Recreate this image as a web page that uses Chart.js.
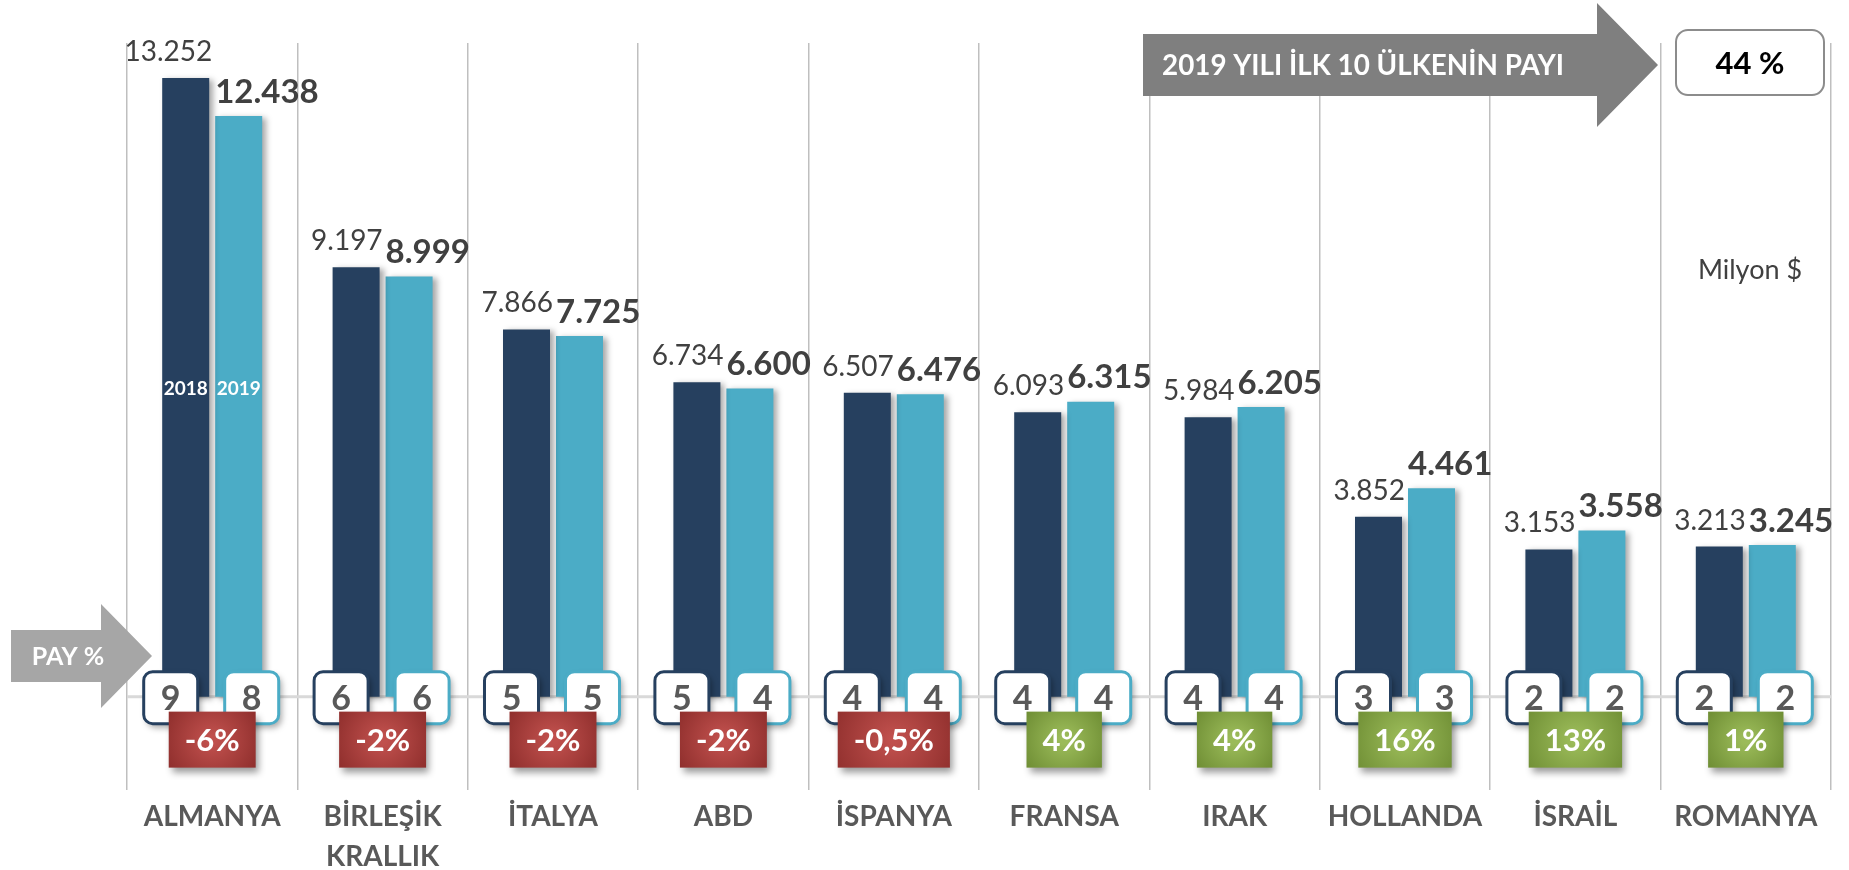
<!DOCTYPE html>
<html lang="tr">
<head>
<meta charset="utf-8">
<title>İlk 10 Ülke İhracatı</title>
<script src="https://cdn.jsdelivr.net/npm/chart.js@4.4.0/dist/chart.umd.min.js"></script>
<style>
    html, body { margin: 0; padding: 0; background: #ffffff; }
    #wrap { width: 1849px; height: 870px; }
</style>
</head>
<body>
<div id="wrap"><canvas id="exportChart" width="1849" height="870"></canvas></div>
<script>
// Exports by country, million $
const countries = ['ALMANYA', ['BİRLEŞİK', 'KRALLIK'], 'İTALYA', 'ABD', 'İSPANYA', 'FRANSA', 'IRAK', 'HOLLANDA', 'İSRAİL', 'ROMANYA'];
const years = ['2018', '2019'];
const exports2018 = [13252, 9197, 7866, 6734, 6507, 6093, 5984, 3852, 3153, 3213];
const exports2019 = [12438, 8999, 7725, 6600, 6476, 6315, 6205, 4461, 3558, 3245];
// Share of total exports (%)
const share2018 = [9, 6, 5, 5, 4, 4, 4, 3, 2, 2];
const share2019 = [8, 6, 5, 4, 4, 4, 4, 3, 2, 2];
// Change 2019 vs 2018 (%)
const changePct = [-6, -2, -2, -2, -0.5, 4, 4, 16, 13, 1];
const top10Share = 44;

const colors = {
    dark: '#26405f',
    light: '#4bacc6',
    grid: '#bfbfbf',
    baseline: '#d9d9d9',
    text: '#404040',
    axisText: '#595959',
    arrowTop: '#7f7f7f',
    arrowPay: '#a6a6a6'
};
const FONT = 'Lato, "Open Sans", sans-serif';

// Turkish number formatting: 13.252 and -0,5%
const fmtThousands = v => String(v).replace(/\B(?=(\d{3})+(?!\d))/g, '.');
const fmtPct = v => String(v).replace('.', ',') + '%';

function withShadow(ctx, blur, dx, dy, color, draw) {
    ctx.save();
    ctx.shadowColor = color;
    ctx.shadowBlur = blur;
    ctx.shadowOffsetX = dx;
    ctx.shadowOffsetY = dy;
    draw();
    ctx.restore();
}

function drawRightArrow(ctx, x0, shaftTop, shaftBottom, headX, headTop, headBottom, tipX, color) {
    const mid = (headTop + headBottom) / 2;
    ctx.beginPath();
    ctx.moveTo(x0, shaftTop);
    ctx.lineTo(headX, shaftTop);
    ctx.lineTo(headX, headTop);
    ctx.lineTo(tipX, mid);
    ctx.lineTo(headX, headBottom);
    ctx.lineTo(headX, shaftBottom);
    ctx.lineTo(x0, shaftBottom);
    ctx.closePath();
    ctx.fillStyle = color;
    ctx.fill();
}

const decorPlugin = {
    id: 'decor',
    beforeDatasetsDraw(chart) {
        const { ctx, chartArea, scales } = chart;
        const y0 = scales.y.getPixelForValue(0);
        ctx.save();
        ctx.strokeStyle = colors.baseline;
        ctx.lineWidth = 3;
        ctx.beginPath();
        ctx.moveTo(chartArea.left, y0);
        ctx.lineTo(chartArea.right, y0);
        ctx.stroke();
        ctx.restore();

        // soft shadow behind the bars
        ctx.save();
        ctx.shadowColor = 'rgba(0,0,0,0.35)';
        ctx.shadowBlur = 6;
        ctx.shadowOffsetX = 4;
        ctx.shadowOffsetY = 2;
    },
    afterDatasetsDraw(chart) {
        const { ctx, scales } = chart;
        ctx.restore();

        const m0 = chart.getDatasetMeta(0);
        const m1 = chart.getDatasetMeta(1);
        const y0 = scales.y.getPixelForValue(0);

        // value labels
        ctx.save();
        ctx.textBaseline = 'middle';
        m0.data.forEach((bar, i) => {
            ctx.font = `28px ${FONT}`;
            ctx.fillStyle = colors.text;
            ctx.textAlign = 'right';
            ctx.fillText(fmtThousands(exports2018[i]), bar.x + bar.width / 2 + 3, bar.y - 26);
        });
        m1.data.forEach((bar, i) => {
            ctx.font = `bold 33px ${FONT}`;
            ctx.fillStyle = colors.text;
            ctx.textAlign = 'left';
            ctx.fillText(fmtThousands(exports2019[i]), bar.x - bar.width / 2, bar.y - 24);
        });

        // year names inside the first pair of bars
        ctx.font = `bold 19px ${FONT}`;
        ctx.fillStyle = '#ffffff';
        ctx.textAlign = 'center';
        ctx.fillText(years[0], m0.data[0].x, 389);
        ctx.fillText(years[1], m1.data[0].x, 389);
        ctx.restore();

        // share boxes sitting on the baseline
        const boxW = 54, boxH = 52;
        const drawShare = (cx, value, border) => {
            const x = cx - boxW / 2, y = y0 + 1 - boxH / 2;
            withShadow(ctx, 6, 3, 4, 'rgba(0,0,0,0.35)', () => {
                ctx.beginPath();
                ctx.roundRect(x, y, boxW, boxH, 9);
                ctx.fillStyle = '#ffffff';
                ctx.fill();
            });
            ctx.save();
            ctx.beginPath();
            ctx.roundRect(x, y, boxW, boxH, 9);
            ctx.lineWidth = 3;
            ctx.strokeStyle = border;
            ctx.stroke();
            ctx.font = `bold 34px ${FONT}`;
            ctx.fillStyle = colors.axisText;
            ctx.textAlign = 'center';
            ctx.textBaseline = 'middle';
            ctx.fillText(String(value), cx, y0 + 2);
            ctx.restore();
        };
        m0.data.forEach((bar, i) => drawShare(bar.x - 15, share2018[i], colors.dark));
        m1.data.forEach((bar, i) => drawShare(bar.x + 13, share2019[i], colors.light));

        // change boxes, red for decline, green for growth
        ctx.save();
        ctx.font = `bold 31px ${FONT}`;
        const h = 56;
        chart.scales.x.ticks.forEach((t, i) => {
            const cx = chart.scales.x.getPixelForTick(i);
            const label = fmtPct(changePct[i]);
            const w = Math.max(70, ctx.measureText(label).width + 32);
            const x = cx - w / 2, y = y0 + 15;
            const g = ctx.createRadialGradient(cx, y + h / 2, 4, cx, y + h / 2, w * 0.65);
            if (changePct[i] < 0) {
                g.addColorStop(0, '#c0504d');
                g.addColorStop(1, '#8a2b29');
            } else {
                g.addColorStop(0, '#9bbb59');
                g.addColorStop(1, '#6c8b32');
            }
            withShadow(ctx, 7, 3, 5, 'rgba(0,0,0,0.4)', () => {
                ctx.fillStyle = g;
                ctx.fillRect(x, y, w, h);
            });
            ctx.fillStyle = '#ffffff';
            ctx.textAlign = 'center';
            ctx.textBaseline = 'middle';
            ctx.fillText(label, cx, y + h / 2 + 1);
        });
        ctx.restore();
    },
    afterDraw(chart) {
        const { ctx } = chart;
        ctx.save();

        // top-right banner with the top-10 share
        drawRightArrow(ctx, 1143, 34, 96, 1597, 3, 127, 1658, colors.arrowTop);
        ctx.font = `bold 28px ${FONT}`;
        ctx.fillStyle = '#ffffff';
        ctx.textAlign = 'left';
        ctx.textBaseline = 'middle';
        ctx.fillText('2019 YILI İLK 10 ÜLKENİN PAYI', 1162, 66, 402);

        ctx.beginPath();
        ctx.roundRect(1676, 30, 148, 65, 12);
        ctx.fillStyle = '#ffffff';
        ctx.fill();
        ctx.lineWidth = 2;
        ctx.strokeStyle = '#8c8c8c';
        ctx.stroke();
        ctx.font = `bold 31px ${FONT}`;
        ctx.fillStyle = '#000000';
        ctx.textAlign = 'center';
        ctx.fillText(top10Share + ' %', 1750, 64);

        ctx.font = `27px ${FONT}`;
        ctx.fillStyle = colors.text;
        ctx.fillText('Milyon $', 1750, 270);

        // "PAY %" pointer on the left
        drawRightArrow(ctx, 11, 630, 682, 101, 604, 708, 152, colors.arrowPay);
        ctx.font = `bold 25px ${FONT}`;
        ctx.fillStyle = '#ffffff';
        ctx.textAlign = 'center';
        ctx.fillText('PAY %', 68, 657);

        ctx.restore();
    }
};

new Chart(document.getElementById('exportChart'), {
    type: 'bar',
    data: {
        labels: countries,
        datasets: [
            { label: years[0], data: exports2018, backgroundColor: colors.dark, categoryPercentage: 0.622, barPercentage: 0.887 },
            { label: years[1], data: exports2019, backgroundColor: colors.light, categoryPercentage: 0.622, barPercentage: 0.887 }
        ]
    },
    options: {
        responsive: false,
        animation: false,
        layout: { padding: { left: 127, right: 18, top: 43, bottom: 0 } },
        scales: {
            x: {
                grid: { color: colors.grid, lineWidth: 1.5, drawTicks: false, offset: true },
                border: { display: false },
                ticks: {
                    color: colors.axisText,
                    font: { family: FONT, size: 28, weight: 'bold', lineHeight: 40 / 28 },
                    padding: 7,
                    maxRotation: 0,
                    autoSkip: false
                },
                afterFit(scale) { scale.height = 80; }
            },
            y: { display: false, min: -2000, max: 14000 }
        },
        plugins: {
            legend: { display: false },
            tooltip: { enabled: false }
        }
    },
    plugins: [decorPlugin]
});
</script>
</body>
</html>
